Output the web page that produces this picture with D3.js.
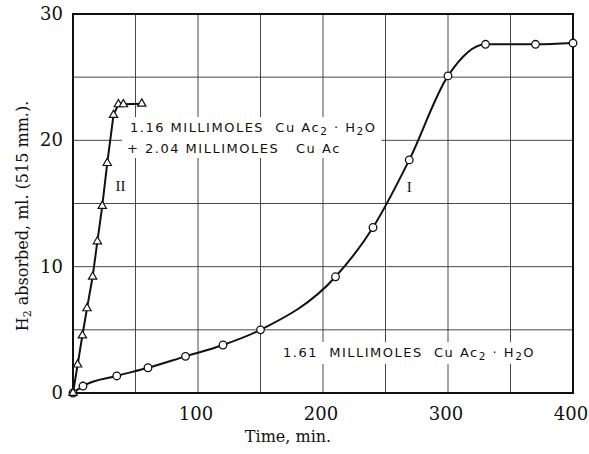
<!DOCTYPE html>
<html>
  <head>
    <meta charset="utf-8">
    <title>H2 absorbed vs time</title>
    <script src="https://d3js.org/d3.v7.min.js"></script>
    <style>
      body { margin: 0; background: #fff; }
      svg { display: block; }
      .num { font-family: "DejaVu Serif", serif; font-size: 18px; fill: #111; }
      .title { font-family: "DejaVu Serif", serif; font-size: 16px; fill: #111; }
      .note { font-family: "DejaVu Sans", sans-serif; font-size: 13px; fill: #111; letter-spacing: 1.5px; white-space: pre; }
      .roman { font-family: "Liberation Serif", serif; font-size: 15px; fill: #111; }
    </style>
  </head>
  <body>
    <div id="chart"></div>
    <script>

      // Curve I: 1.61 mmol CuAc2.H2O
      var timeI = [0, 8, 35, 60, 90, 120, 150, 210, 240, 269, 300, 330, 370, 400];
      var h2I = [0, 0.55, 1.35, 2.0, 2.9, 3.8, 5.0, 9.2, 13.1, 18.45, 25.1, 27.6, 27.6, 27.7];

      // Curve II: 1.16 mmol CuAc2.H2O + 2.04 mmol CuAc
      var timeII = [0, 3.7, 7.5, 11.2, 15.7, 19.5, 23.4, 27.4, 32.4, 36.3, 40.3, 55];
      var h2II = [0, 2.25, 4.55, 6.7, 9.2, 12.0, 14.8, 18.2, 22.0, 22.85, 22.85, 22.9];

      var xTicks = [100, 200, 300, 400];
      var yTicks = [0, 10, 20, 30];
      var xGrid = [50, 100, 150, 200, 250, 300, 350];
      var yGrid = [5, 10, 15, 20, 25];

      var W = 589, H = 454;
      var margin = {top: 14, right: 16, bottom: 61, left: 73};
      var w = W - margin.left - margin.right;
      var h = H - margin.top - margin.bottom;

      var svg = d3.select("#chart").append("svg")
        .attr("width", W)
        .attr("height", H);

      var g = svg.append("g")
        .attr("transform", "translate(" + margin.left + "," + margin.top + ")");

      var x = d3.scaleLinear().domain([0, 400]).range([0, w]);
      var y = d3.scaleLinear().domain([0, 30]).range([h, 0]);

      // grid
      var grid = g.append("g").attr("stroke", "#333").attr("stroke-width", 0.9);
      grid.selectAll(".vg").data(xGrid).enter().append("line")
        .attr("x1", function (d) { return x(d); })
        .attr("x2", function (d) { return x(d); })
        .attr("y1", 0).attr("y2", h);
      grid.selectAll(".hg").data(yGrid).enter().append("line")
        .attr("y1", function (d) { return y(d); })
        .attr("y2", function (d) { return y(d); })
        .attr("x1", 0).attr("x2", w);

      // annotations (white boxes break the grid behind the text)
      var notes = g.append("g");

      function note(px, py, parts) {
        var t = notes.append("text").attr("class", "note")
          .attr("x", px).attr("y", py);
        parts.forEach(function (p) {
          var s = t.append("tspan").text(p[0]);
          if (p[1]) s.attr("font-size", "10.5px").attr("dy", 3);
          else if (p[2]) s.attr("dy", -3);
        });
        return t;
      }

      var n1 = note(57, 118, [["1.16 MILLIMOLES  Cu Ac"], ["2", 1], [" · H", 0, 1], ["2", 1], ["O", 0, 1]]);
      var n2 = note(54, 139, [["+ 2.04 MILLIMOLES   Cu Ac"]]);
      var n3 = note(210, 343, [["1.61  MILLIMOLES  Cu Ac"], ["2", 1], [" · H", 0, 1], ["2", 1], ["O", 0, 1]]);

      [[n1, n2], [n3]].forEach(function (grp) {
        var bb = grp.map(function (t) { return t.node().getBBox(); });
        var x0 = d3.min(bb, function (b) { return b.x; }) - 5;
        var y0 = d3.min(bb, function (b) { return b.y; }) - 3;
        var x1 = d3.max(bb, function (b) { return b.x + b.width; }) + 5;
        var y1 = d3.max(bb, function (b) { return b.y + b.height; }) + 2;
        notes.insert("rect", "text")
          .attr("x", x0).attr("y", y0)
          .attr("width", x1 - x0).attr("height", y1 - y0)
          .attr("fill", "#fff");
      });

      // frame
      g.append("rect")
        .attr("width", w).attr("height", h)
        .attr("fill", "none").attr("stroke", "#111").attr("stroke-width", 2);

      // curves
      var dataI = timeI.map(function (t, i) { return {t: t, v: h2I[i]}; });
      var dataII = timeII.map(function (t, i) { return {t: t, v: h2II[i]}; });

      var lineI = d3.line()
        .x(function (d) { return x(d.t); })
        .y(function (d) { return y(d.v); })
        .curve(d3.curveMonotoneX);
      var lineII = d3.line()
        .x(function (d) { return x(d.t); })
        .y(function (d) { return y(d.v); });

      g.append("path").datum(dataI).attr("d", lineI)
        .attr("fill", "none").attr("stroke", "#111").attr("stroke-width", 2);
      g.append("path").datum(dataII).attr("d", lineII)
        .attr("fill", "none").attr("stroke", "#111").attr("stroke-width", 2);

      g.selectAll(".ptI").data(dataI).enter().append("circle")
        .attr("cx", function (d) { return x(d.t); })
        .attr("cy", function (d) { return y(d.v); })
        .attr("r", 3.8)
        .attr("fill", "#fff").attr("stroke", "#111").attr("stroke-width", 1.3);

      var tri = d3.symbol().type(d3.symbolTriangle).size(30);
      g.selectAll(".ptII").data(dataII).enter().append("path")
        .attr("d", tri)
        .attr("transform", function (d) { return "translate(" + x(d.t) + "," + y(d.v) + ")"; })
        .attr("fill", "#fff").attr("stroke", "#111").attr("stroke-width", 1.2);

      // curve labels
      g.append("text").attr("class", "roman")
        .attr("x", x(34)).attr("y", y(16.0)).text("II");
      g.append("text").attr("class", "roman")
        .attr("x", x(267)).attr("y", y(15.9)).text("I");

      // tick labels
      g.selectAll(".xt").data(xTicks).enter().append("text")
        .attr("class", "num")
        .attr("x", function (d) { return x(d) - 2; })
        .attr("y", h + 27)
        .attr("text-anchor", "middle")
        .text(function (d) { return d; });
      g.selectAll(".yt").data(yTicks).enter().append("text")
        .attr("class", "num")
        .attr("x", -10)
        .attr("y", function (d) { return y(d) + 6; })
        .attr("text-anchor", "end")
        .text(function (d) { return d; });

      // axis titles
      g.append("text").attr("class", "title")
        .attr("x", x(172)).attr("y", h + 49)
        .attr("text-anchor", "middle")
        .text("Time, min.");

      var yt = svg.append("text").attr("class", "title")
        .attr("transform", "translate(28,216) rotate(-90)")
        .attr("text-anchor", "middle");
      yt.append("tspan").text("H");
      yt.append("tspan").attr("font-size", "11px").attr("dy", 3).text("2");
      yt.append("tspan").attr("dy", -3).text(" absorbed, ml. (515 mm.).");

    </script>
  </body>
</html>
